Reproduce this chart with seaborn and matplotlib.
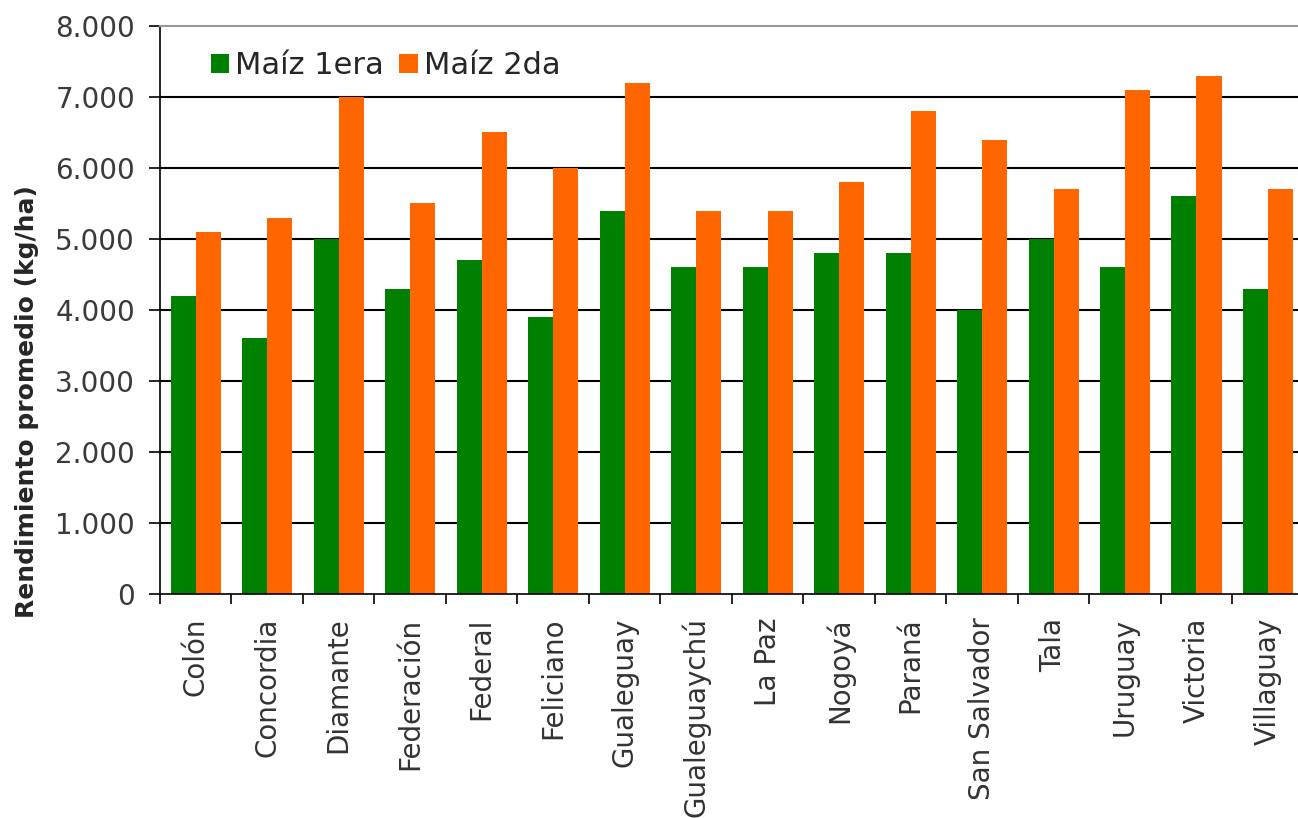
import pandas as pd
import numpy as np
import matplotlib.pyplot as plt
import seaborn as sns
from matplotlib.ticker import FuncFormatter, FixedLocator

departamentos = ['Colón', 'Concordia', 'Diamante', 'Federación', 'Federal', 'Feliciano',
                 'Gualeguay', 'Gualeguaychú', 'La Paz', 'Nogoyá', 'Paraná', 'San Salvador',
                 'Tala', 'Uruguay', 'Victoria', 'Villaguay']
maiz_1era = [4200, 3600, 5000, 4300, 4700, 3900, 5400, 4600, 4600, 4800, 4800, 4000,
             5000, 4600, 5600, 4300]
maiz_2da = [5100, 5300, 7000, 5500, 6500, 6000, 7200, 5400, 5400, 5800, 6800, 6400,
            5700, 7100, 7300, 5700]
series = ['Maíz 1era', 'Maíz 2da']

df = pd.DataFrame({
    'Departamento': departamentos * 2,
    'Cultivo': [series[0]] * len(departamentos) + [series[1]] * len(departamentos),
    'Rendimiento': maiz_1era + maiz_2da,
})

sns.set_style('white')
plt.rcParams['font.family'] = ['DejaVu Sans']

fig = plt.figure(figsize=(12.98, 8.18), dpi=100)
ax = fig.add_axes([160 / 1298, 1 - 594 / 818, 1 - 160 / 1298, (594 - 26) / 818])

sns.barplot(data=df, x='Departamento', y='Rendimiento', hue='Cultivo',
            palette=['#008000', '#FF6600'], width=0.7, gap=0, saturation=1,
            linewidth=0, edgecolor='none',
            order=departamentos, hue_order=series, ax=ax)

ax.set_axisbelow(True)
ax.set_ylim(0, 8000)
ax.set_xlim(-0.5, 15.42)
ax.set_yticks(range(0, 8001, 1000))
ax.yaxis.set_major_formatter(FuncFormatter(lambda v, p: f'{int(v):,}'.replace(',', '.')))
for y in range(1000, 8000, 1000):
    ax.axhline(y, color='black', lw=1.5, zorder=0)

ax.spines['right'].set_visible(False)
ax.spines['top'].set_color('#999999')
ax.spines['top'].set_linewidth(1.5)
ax.spines['left'].set_color('black')
ax.spines['bottom'].set_color('black')
ax.spines['left'].set_linewidth(1.2)
ax.spines['bottom'].set_linewidth(1.2)

ax.tick_params(axis='y', which='major', length=8, width=1.2, color='black',
               labelsize=20, labelcolor='#3a3a3a', direction='out', left=True, pad=10)
ax.tick_params(axis='x', which='major', length=0, labelsize=20, labelcolor='#333333',
               labelrotation=90, pad=17)
ax.xaxis.set_minor_locator(FixedLocator(np.arange(-0.5, 16, 1)))
ax.tick_params(axis='x', which='minor', length=7, width=1.2, color='black',
               direction='out', bottom=True)

ax.set_xlabel('')
ax.set_ylabel('Rendimiento promedio (kg/ha)', fontsize=18, fontweight='bold')
ax.yaxis.set_label_coords(-0.106, 0.338)

ax.legend(loc='center left', bbox_to_anchor=(0.034, 0.93), ncol=2, frameon=False,
          fontsize=22, handlelength=0.6, handleheight=0.6, handletextpad=0.2,
          columnspacing=0.5, borderaxespad=0)

plt.savefig('out.png', dpi=100)
